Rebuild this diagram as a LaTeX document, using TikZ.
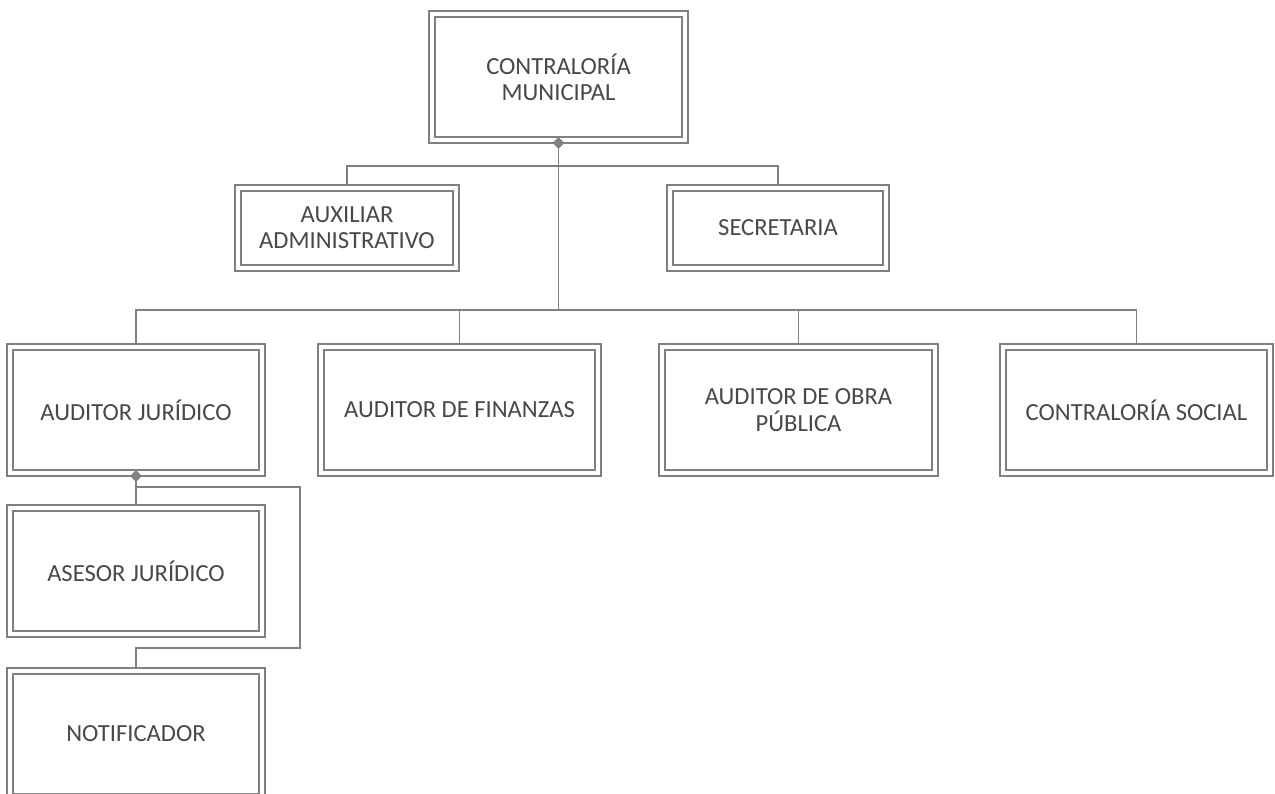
\documentclass[tikz,border=0pt]{standalone}
\usepackage{fontspec}
\setmainfont{Carlito}
\usetikzlibrary{shapes.geometric}
\definecolor{linegray}{HTML}{808080}
\definecolor{textgray}{HTML}{484848}
\tikzstyle{unit}=[draw=linegray,line width=0.9pt,fill=white,rectangle,outer sep=0pt,inner sep=0pt,
    minimum height=132*0.02cm,text=textgray,align=center,font=\fontsize{14}{15}\selectfont]
\tikzstyle{inner box}=[draw=linegray,line width=1.4pt]
\tikzstyle{link}=[draw=linegray,line width=1.1pt,-]
\tikzstyle{joint}=[diamond,fill=linegray,inner sep=0pt,minimum size=0.24cm]

\begin{document}
\begin{tikzpicture}[x=0.02cm,y=-0.02cm]
    \useasboundingbox (0,0) rectangle (1275,794);
    % boxes: position / width / height / name / text
    \foreach \pos/\w/\h/\name/\txt in {
        {(558.5,77)/259/132/cm/CONTRALORÍA\\MUNICIPAL},
        {(347,228)/224/86/aux/AUXILIAR\\ADMINISTRATIVO},
        {(778,228)/222/86/sec/SECRETARIA},
        {(136,410)/258/132/aj/AUDITOR JURÍDICO},
        {(459.5,410)/283/132/af/AUDITOR DE FINANZAS},
        {(798.5,410)/279/132/ao/AUDITOR DE OBRA\\PÚBLICA},
        {(1136.5,410)/273/132/cs/CONTRALORÍA SOCIAL},
        {(136,571)/258/132/as/ASESOR JURÍDICO},
        {(136,734)/258/132/nt/NOTIFICADOR}}
        \node[unit,minimum width=\w*0.02cm,minimum height=\h*0.02cm] (\name) at \pos {\txt};
    \foreach \name in {cm,aux,sec,aj,af,ao,cs,as,nt}
        \path[inner box] ([shift={(6,6)}]\name.north west) rectangle ([shift={(-6,-6)}]\name.south east);

    % bus lines
    \coordinate (bus1) at (558.5,166);
    \coordinate (bus2) at (558.5,310);
    \coordinate (jr1) at (300,487);
    \coordinate (jr2) at (300,648);
    \path[link] (cm.south) -- (bus2);
    \path[link] (aux.north) |- (bus1) -| (sec.north);
    \path[link] (aj.north) |- (bus2) -| (cs.north);
    \foreach \dest in {af,ao}
        \path[link] (\dest.north) -- (\dest.north |- bus2);
    \path[link] (aj.south) -- (as.north);
    \path[link] (aj.south |- jr1) -- (jr1) -- (jr2) -| (nt.north);
    \node[joint] (cmjoint) at (cm.south) {};
    \node[joint] (ajjoint) at (aj.south) {};
\end{tikzpicture}
\end{document}
